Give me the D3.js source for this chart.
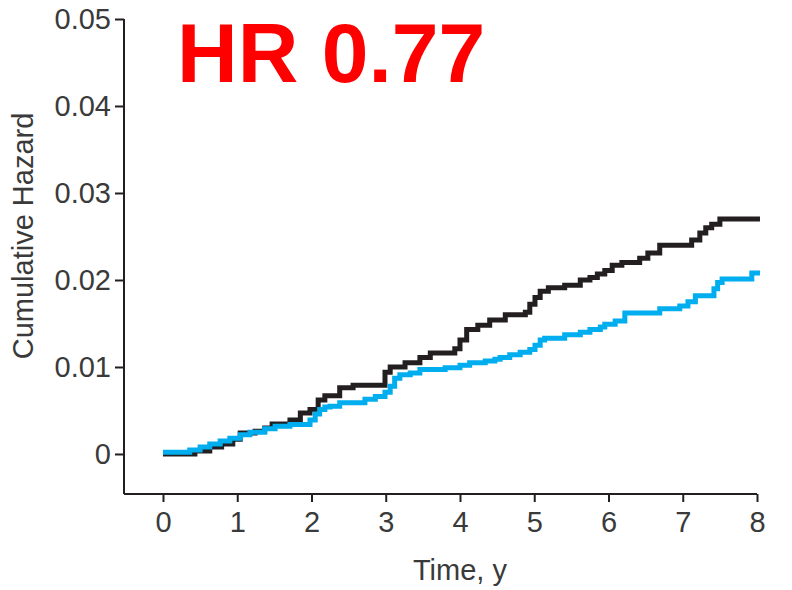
<!DOCTYPE html>
<html>
<head>
<meta charset="utf-8">
<script src="https://cdn.jsdelivr.net/npm/d3@7"></script>
<style>
  body { margin: 0; background: #fff; }
  text { font-family: "Liberation Sans", Arial, sans-serif; }
</style>
</head>
<body>
<script>
// step data: time (y) and cumulative hazard from that time on
const blackTimes = [0, 0.43, 0.63, 0.79, 0.94, 1.04, 1.24, 1.37, 1.47, 1.71, 1.85, 1.98, 2.09, 2.18, 2.38, 2.56,
  2.99, 3.06, 3.26, 3.46, 3.60, 3.93, 4.00, 4.09, 4.24, 4.40, 4.61, 4.88, 4.94, 5.01, 5.08, 5.19, 5.41, 5.62,
  5.75, 5.85, 5.95, 6.05, 6.18, 6.42, 6.53, 6.69, 7.12, 7.23, 7.31, 7.39, 7.50, 8.04];
const blackValues = [0, 0.00035, 0.0008, 0.00115, 0.0017, 0.0024, 0.0026, 0.0030, 0.00345, 0.0039, 0.0047, 0.0051,
  0.0062, 0.0067, 0.0076, 0.0079, 0.0094, 0.0100, 0.0105, 0.0111, 0.0116, 0.0121, 0.0131, 0.0143, 0.0148, 0.0154,
  0.0160, 0.0163, 0.0172, 0.0180, 0.0187, 0.0191, 0.0194, 0.0200, 0.0203, 0.0207, 0.0211, 0.0217, 0.0220, 0.0225,
  0.0231, 0.0240, 0.0246, 0.0254, 0.0260, 0.0264, 0.0270, 0.0270];

const blueTimes = [0, 0.36, 0.50, 0.63, 0.77, 0.90, 1.04, 1.17, 1.37, 1.51, 1.71, 1.98, 2.05, 2.11, 2.18, 2.25, 2.38,
  2.72, 2.86, 2.99, 3.06, 3.12, 3.19, 3.33, 3.46, 3.80, 4.00, 4.13, 4.34, 4.47, 4.54, 4.67, 4.81, 4.94, 5.01, 5.08,
  5.14, 5.41, 5.62, 5.75, 5.89, 5.95, 6.09, 6.22, 6.69, 6.96, 7.07, 7.17, 7.42, 7.47, 7.53, 7.93, 8.04];
const blueValues = [0.0002, 0.00045, 0.0008, 0.00115, 0.0015, 0.0018, 0.0022, 0.0025, 0.0029, 0.0032, 0.0034, 0.0039,
  0.0046, 0.0051, 0.0054, 0.0055, 0.0059, 0.0063, 0.0066, 0.0071, 0.0078, 0.0087, 0.0091, 0.0093, 0.0097, 0.0099,
  0.0102, 0.0105, 0.0107, 0.0109, 0.0111, 0.0114, 0.0117, 0.0120, 0.0125, 0.0131, 0.0133, 0.0137, 0.0140, 0.0143,
  0.0146, 0.0149, 0.0153, 0.0162, 0.0167, 0.0170, 0.0175, 0.0182, 0.0190, 0.0197, 0.0201, 0.0208, 0.0208];

const xTicks = [0, 1, 2, 3, 4, 5, 6, 7, 8];
const yTicks = [0, 0.01, 0.02, 0.03, 0.04, 0.05];
const yTickLabels = ["0", "0.01", "0.02", "0.03", "0.04", "0.05"];

const width = 792, height = 590;

const svg = d3.select("body")
  .append("svg")
  .attr("width", width)
  .attr("height", height);

let x = d3.scaleLinear()
  .domain([-0.525, 8])
  .range([124, 757]);

let y = d3.scaleLinear()
  .domain([-0.0046, 0.05])
  .range([494, 19]);

const axisColor = "#231f20";
const labelColor = "#3a3a3a";

// curves
const line = d3.line()
  .x(d => x(d[0]))
  .y(d => y(d[1]))
  .curve(d3.curveStepAfter);

svg.append("path")
  .datum(d3.zip(blackTimes, blackValues))
  .attr("fill", "none")
  .attr("stroke", "#231f20")
  .attr("stroke-width", 5)
  .attr("d", line);

svg.append("path")
  .datum(d3.zip(blueTimes, blueValues))
  .attr("fill", "none")
  .attr("stroke", "#00aeef")
  .attr("stroke-width", 5)
  .attr("d", line);

// y axis
const yAxis = svg.append("g")
  .attr("transform", "translate(124,0)")
  .call(d3.axisLeft(y).tickValues(yTicks).tickSize(9).tickPadding(4)
    .tickFormat((d, i) => yTickLabels[i]));

// x axis
const xAxis = svg.append("g")
  .attr("transform", "translate(0,494)")
  .call(d3.axisBottom(x).tickValues(xTicks).tickSize(8).tickPadding(9)
    .tickFormat(d3.format("d")));

[yAxis, xAxis].forEach(g => {
  g.select(".domain")
    .attr("stroke", axisColor)
    .attr("stroke-width", 2);
  g.selectAll(".tick line")
    .attr("stroke", axisColor)
    .attr("stroke-width", 2);
  g.selectAll(".tick text")
    .attr("fill", labelColor)
    .style("font-size", "29px")
    .style("font-family", "'Liberation Sans', Arial, sans-serif");
});

// make the domain plain lines (no outer ticks)
yAxis.select(".domain").attr("d", `M0,${y(0.05)}V494`);
xAxis.select(".domain").attr("d", "M124,0H757");

svg.append("text")
  .attr("transform", "translate(33,236) rotate(-90)")
  .attr("text-anchor", "middle")
  .attr("fill", labelColor)
  .style("font-size", "29px")
  .text("Cumulative Hazard");

svg.append("text")
  .attr("x", x(4))
  .attr("y", 580)
  .attr("text-anchor", "middle")
  .attr("fill", labelColor)
  .style("font-size", "29px")
  .text("Time, y");

svg.append("text")
  .attr("x", 177)
  .attr("y", 82)
  .attr("fill", "#ff0000")
  .style("font-size", "84px")
  .style("font-weight", "bold")
  .text("HR 0.77");
</script>
</body>
</html>
